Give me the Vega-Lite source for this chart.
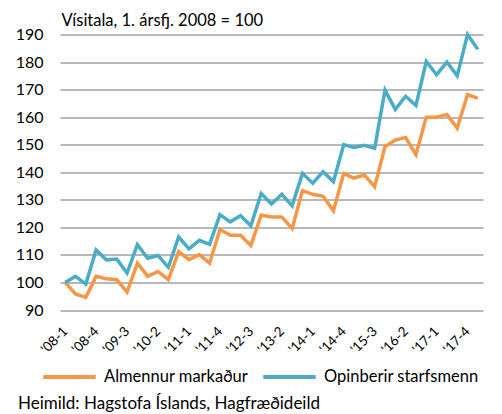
{
  "$schema": "https://vega.github.io/schema/vega-lite/v6.json",
  "width": 423,
  "height": 275.5,
  "autosize": {"type": "none"},
  "padding": {"left": 60, "top": 34.5, "right": 19, "bottom": 104},
  "background": "white",
  "config": {
    "font": "Lato",
    "view": {"stroke": null}
  },
  "title": {
    "text": "Heimild: Hagstofa Íslands, Hagfræðideild",
    "orient": "bottom",
    "anchor": "start",
    "frame": "group",
    "dx": -42,
    "offset": 10,
    "fontSize": 17,
    "fontWeight": "normal",
    "color": "#000000",
    "font": "Lato"
  },
  "datasets": {
    "d": [
      {"q": "'08-1", "i": 0, "s": "Almennur markaður", "v": 100},
      {"q": "'08-2", "i": 1, "s": "Almennur markaður", "v": 95.8},
      {"q": "'08-3", "i": 2, "s": "Almennur markaður", "v": 94.6},
      {"q": "'08-4", "i": 3, "s": "Almennur markaður", "v": 102.2},
      {"q": "'09-1", "i": 4, "s": "Almennur markaður", "v": 101.3},
      {"q": "'09-2", "i": 5, "s": "Almennur markaður", "v": 101},
      {"q": "'09-3", "i": 6, "s": "Almennur markaður", "v": 96.5},
      {"q": "'09-4", "i": 7, "s": "Almennur markaður", "v": 107},
      {"q": "'10-1", "i": 8, "s": "Almennur markaður", "v": 102.2},
      {"q": "'10-2", "i": 9, "s": "Almennur markaður", "v": 104},
      {"q": "'10-3", "i": 10, "s": "Almennur markaður", "v": 101},
      {"q": "'10-4", "i": 11, "s": "Almennur markaður", "v": 111.2},
      {"q": "'11-1", "i": 12, "s": "Almennur markaður", "v": 108.3},
      {"q": "'11-2", "i": 13, "s": "Almennur markaður", "v": 110.1},
      {"q": "'11-3", "i": 14, "s": "Almennur markaður", "v": 107},
      {"q": "'11-4", "i": 15, "s": "Almennur markaður", "v": 119.2},
      {"q": "'12-1", "i": 16, "s": "Almennur markaður", "v": 117.1},
      {"q": "'12-2", "i": 17, "s": "Almennur markaður", "v": 117.1},
      {"q": "'12-3", "i": 18, "s": "Almennur markaður", "v": 113.4},
      {"q": "'12-4", "i": 19, "s": "Almennur markaður", "v": 124.5},
      {"q": "'13-1", "i": 20, "s": "Almennur markaður", "v": 123.8},
      {"q": "'13-2", "i": 21, "s": "Almennur markaður", "v": 123.8},
      {"q": "'13-3", "i": 22, "s": "Almennur markaður", "v": 119.6},
      {"q": "'13-4", "i": 23, "s": "Almennur markaður", "v": 133.3},
      {"q": "'14-1", "i": 24, "s": "Almennur markaður", "v": 132},
      {"q": "'14-2", "i": 25, "s": "Almennur markaður", "v": 131.3},
      {"q": "'14-3", "i": 26, "s": "Almennur markaður", "v": 126},
      {"q": "'14-4", "i": 27, "s": "Almennur markaður", "v": 139.5},
      {"q": "'15-1", "i": 28, "s": "Almennur markaður", "v": 137.9},
      {"q": "'15-2", "i": 29, "s": "Almennur markaður", "v": 139},
      {"q": "'15-3", "i": 30, "s": "Almennur markaður", "v": 134.8},
      {"q": "'15-4", "i": 31, "s": "Almennur markaður", "v": 149.3},
      {"q": "'16-1", "i": 32, "s": "Almennur markaður", "v": 151.7},
      {"q": "'16-2", "i": 33, "s": "Almennur markaður", "v": 152.6},
      {"q": "'16-3", "i": 34, "s": "Almennur markaður", "v": 146.4},
      {"q": "'16-4", "i": 35, "s": "Almennur markaður", "v": 160},
      {"q": "'17-1", "i": 36, "s": "Almennur markaður", "v": 160},
      {"q": "'17-2", "i": 37, "s": "Almennur markaður", "v": 161},
      {"q": "'17-3", "i": 38, "s": "Almennur markaður", "v": 156},
      {"q": "'17-4", "i": 39, "s": "Almennur markaður", "v": 168.2},
      {"q": "'18-1", "i": 40, "s": "Almennur markaður", "v": 166.8},
      {"q": "'08-1", "i": 0, "s": "Opinberir starfsmenn", "v": 100},
      {"q": "'08-2", "i": 1, "s": "Opinberir starfsmenn", "v": 102.2},
      {"q": "'08-3", "i": 2, "s": "Opinberir starfsmenn", "v": 99.4},
      {"q": "'08-4", "i": 3, "s": "Opinberir starfsmenn", "v": 111.8},
      {"q": "'09-1", "i": 4, "s": "Opinberir starfsmenn", "v": 108.2},
      {"q": "'09-2", "i": 5, "s": "Opinberir starfsmenn", "v": 108.5},
      {"q": "'09-3", "i": 6, "s": "Opinberir starfsmenn", "v": 103.4},
      {"q": "'09-4", "i": 7, "s": "Opinberir starfsmenn", "v": 113.7},
      {"q": "'10-1", "i": 8, "s": "Opinberir starfsmenn", "v": 108.8},
      {"q": "'10-2", "i": 9, "s": "Opinberir starfsmenn", "v": 109.8},
      {"q": "'10-3", "i": 10, "s": "Opinberir starfsmenn", "v": 105.5},
      {"q": "'10-4", "i": 11, "s": "Opinberir starfsmenn", "v": 116.5},
      {"q": "'11-1", "i": 12, "s": "Opinberir starfsmenn", "v": 112.2},
      {"q": "'11-2", "i": 13, "s": "Opinberir starfsmenn", "v": 115.3},
      {"q": "'11-3", "i": 14, "s": "Opinberir starfsmenn", "v": 113.8},
      {"q": "'11-4", "i": 15, "s": "Opinberir starfsmenn", "v": 124.6},
      {"q": "'12-1", "i": 16, "s": "Opinberir starfsmenn", "v": 122},
      {"q": "'12-2", "i": 17, "s": "Opinberir starfsmenn", "v": 124.2},
      {"q": "'12-3", "i": 18, "s": "Opinberir starfsmenn", "v": 120.6},
      {"q": "'12-4", "i": 19, "s": "Opinberir starfsmenn", "v": 132.3},
      {"q": "'13-1", "i": 20, "s": "Opinberir starfsmenn", "v": 128.5},
      {"q": "'13-2", "i": 21, "s": "Opinberir starfsmenn", "v": 132},
      {"q": "'13-3", "i": 22, "s": "Opinberir starfsmenn", "v": 127.8},
      {"q": "'13-4", "i": 23, "s": "Opinberir starfsmenn", "v": 139.6},
      {"q": "'14-1", "i": 24, "s": "Opinberir starfsmenn", "v": 136},
      {"q": "'14-2", "i": 25, "s": "Opinberir starfsmenn", "v": 140.2},
      {"q": "'14-3", "i": 26, "s": "Opinberir starfsmenn", "v": 136.6},
      {"q": "'14-4", "i": 27, "s": "Opinberir starfsmenn", "v": 150},
      {"q": "'15-1", "i": 28, "s": "Opinberir starfsmenn", "v": 149},
      {"q": "'15-2", "i": 29, "s": "Opinberir starfsmenn", "v": 149.8},
      {"q": "'15-3", "i": 30, "s": "Opinberir starfsmenn", "v": 148.7},
      {"q": "'15-4", "i": 31, "s": "Opinberir starfsmenn", "v": 169.8},
      {"q": "'16-1", "i": 32, "s": "Opinberir starfsmenn", "v": 162.8},
      {"q": "'16-2", "i": 33, "s": "Opinberir starfsmenn", "v": 167.6},
      {"q": "'16-3", "i": 34, "s": "Opinberir starfsmenn", "v": 164.2},
      {"q": "'16-4", "i": 35, "s": "Opinberir starfsmenn", "v": 180.2},
      {"q": "'17-1", "i": 36, "s": "Opinberir starfsmenn", "v": 175.4},
      {"q": "'17-2", "i": 37, "s": "Opinberir starfsmenn", "v": 180},
      {"q": "'17-3", "i": 38, "s": "Opinberir starfsmenn", "v": 175},
      {"q": "'17-4", "i": 39, "s": "Opinberir starfsmenn", "v": 190},
      {"q": "'18-1", "i": 40, "s": "Opinberir starfsmenn", "v": 184.6}
    ]
  },
  "data": {"name": "d"},
  "mark": {"type": "line", "strokeWidth": 3.5, "strokeJoin": "miter", "strokeCap": "butt"},
  "encoding": {
    "x": {
      "field": "q",
      "type": "ordinal",
      "sort": {"field": "i"},
      "scale": {"type": "point", "padding": 0.5},
      "axis": {
        "title": null,
        "values": ["'08-1", "'08-4", "'09-3", "'10-2", "'11-1", "'11-4", "'12-3", "'13-2", "'14-1", "'14-4", "'15-3", "'16-2", "'17-1", "'17-4"],
        "labelAngle": -45,
        "labelAlign": "right",
        "labelBaseline": "middle",
        "labelPadding": 19,
        "labelFontSize": 13.5,
        "labelColor": "#000000",
        "labelFont": "Lato",
        "domain": false,
        "ticks": false,
        "grid": false
      }
    },
    "y": {
      "field": "v",
      "type": "quantitative",
      "scale": {"domain": [90, 190], "nice": false, "zero": false},
      "axis": {
        "title": "Vísitala, 1. ársfj. 2008 = 100",
        "titleAngle": 0,
        "titleAlign": "left",
        "titleBaseline": "alphabetic",
        "titleX": 1,
        "titleY": -9,
        "titleFontSize": 16.5,
        "titleFontWeight": "normal",
        "titleFont": "Lato",
        "titleColor": "#000000",
        "values": [90, 100, 110, 120, 130, 140, 150, 160, 170, 180, 190],
        "labelFontSize": 16,
        "labelFont": "Lato",
        "labelColor": "#000000",
        "labelPadding": 17,
        "domain": false,
        "ticks": false,
        "grid": true,
        "gridColor": "#A0A0A0",
        "gridWidth": 1.6
      }
    },
    "color": {
      "field": "s",
      "type": "nominal",
      "scale": {"domain": ["Almennur markaður", "Opinberir starfsmenn"], "range": ["#F79646", "#4BACC6"]},
      "legend": {
        "title": null,
        "orient": "none",
        "direction": "horizontal",
        "legendX": -19,
        "legendY": 314,
        "symbolType": "stroke",
        "symbolSize": 2750,
        "symbolStrokeWidth": 4,
        "labelFontSize": 16.5,
        "labelFont": "Lato",
        "labelColor": "#000000",
        "labelOffset": 6,
        "columnPadding": 6
      }
    }
  }
}
